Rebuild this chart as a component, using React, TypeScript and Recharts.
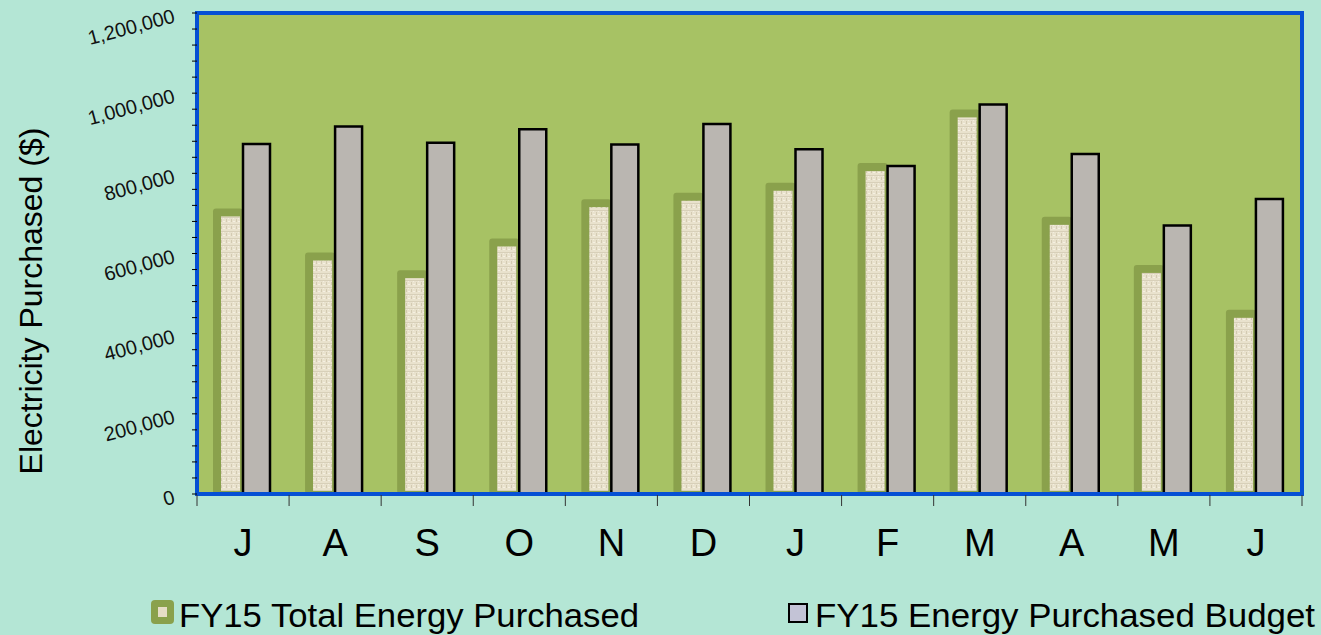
import React from 'react';
import { BarChart, Bar, XAxis, YAxis, CartesianGrid, ReferenceArea, Legend } from 'recharts';

const months = ['J', 'A', 'S', 'O', 'N', 'D', 'J', 'F', 'M', 'A', 'M', 'J'];
const totalPurchased = [705000, 595000, 551000, 630000, 728000, 744000, 769000, 818000, 952000, 684000, 564000, 452000];
const purchasedBudget = [873000, 917000, 876000, 910000, 872000, 923000, 860000, 818000, 972000, 848000, 670000, 736000];
const yTicks = [
  0, 40000, 80000, 120000, 160000, 200000, 240000, 280000, 320000, 360000, 400000,
  440000, 480000, 520000, 560000, 600000, 640000, 680000, 720000, 760000, 800000,
  840000, 880000, 920000, 960000, 1000000, 1040000, 1080000, 1120000, 1160000, 1200000,
];
const yLabelTicks = [0, 200000, 400000, 600000, 800000, 1000000, 1200000];
const seriesNames = ['FY15 Total Energy Purchased', 'FY15 Energy Purchased Budget'];

const data = months.map((m, i) => ({ month: m, total: totalPurchased[i], budget: purchasedBudget[i] }));

const FONT = '"Liberation Sans", Arial, Helvetica, sans-serif';
const BG = '#b4e6d5';
const PLOT = '#a7c264';
const GLOW = '#8aa14c';
const BLUE = '#0550d4';

const TexturedBar = (props: any) => {
  const { x, y, width, height } = props;
  if (height == null || height <= 0) return <g />;
  return (
    <g>
      <defs>
        <pattern id="beigeTex" width="5" height="7" patternUnits="userSpaceOnUse">
          <rect x="0" y="0" width="5" height="7" fill="#e9e2cd" />
          <rect x="0" y="0" width="5" height="1" fill="#d8d0b9" />
          <rect x="1" y="2" width="1" height="3" fill="#d3cab2" />
          <rect x="3" y="4" width="2" height="1" fill="#f5f0e2" />
          <rect x="3" y="1" width="1" height="1" fill="#f3eee0" />
        </pattern>
      </defs>
      <rect x={x - 3} y={y - 3} width={width + 3} height={height + 3} rx={3} ry={3} fill={GLOW} />
      <rect x={x + 5} y={y + 5} width={width - 8} height={height - 8} fill="url(#beigeTex)" />
    </g>
  );
};

const YTick = (props: any) => {
  const { x, y, payload } = props;
  if (!yLabelTicks.includes(payload.value)) return <g />;
  const tx = x - 14;
  const ty = y + 9;
  return (
    <text
      x={tx}
      y={ty}
      textAnchor="end"
      fontSize={20}
      fontFamily={FONT}
      fill="#111"
      transform={`rotate(-15 ${tx} ${ty})`}
    >
      {payload.value.toLocaleString('en-US')}
    </text>
  );
};

const XTick = (props: any) => {
  const { x, y, payload, index, visibleTicksCount } = props;
  const half = payload && payload.offset ? payload.offset : 46;
  const isLast = index === (visibleTicksCount ?? months.length) - 1;
  return (
    <g>
      <line x1={x - half} y1={y + 1} x2={x - half} y2={y + 12} stroke="#333" strokeWidth={1} />
      {isLast && <line x1={x + half} y1={y + 1} x2={x + half} y2={y + 12} stroke="#333" strokeWidth={1} />}
      <text x={x} y={y + 62} textAnchor="middle" fontSize={38} fontFamily={FONT} fill="#000">
        {payload.value}
      </text>
    </g>
  );
};

const LegendContent = () => (
  <svg width={1321} height={45} style={{ display: 'block' }}>
    <rect x={151} y={10} width={23} height={24} rx={4} ry={4} fill={GLOW} />
    <rect x={158} y={17} width={9} height={10} fill="#e6ddc6" />
    <text x={179} y={37} fontSize={33} fontFamily={FONT} fill="#000" textLength={460} lengthAdjust="spacingAndGlyphs">
      {seriesNames[0]}
    </text>
    <rect x={789} y={14} width={18} height={18} fill="#c3c3d6" stroke="#000" strokeWidth={2} />
    <text x={815} y={37} fontSize={33} fontFamily={FONT} fill="#000" textLength={500} lengthAdjust="spacingAndGlyphs">
      {seriesNames[1]}
    </text>
  </svg>
);

export default function App() {
  return (
    <div style={{ position: 'fixed', left: 0, top: 0, width: 1321, height: 635, background: BG, overflow: 'hidden' }}>
      <BarChart
        width={1321}
        height={635}
        data={data}
        margin={{ top: 13, right: 19, left: 137, bottom: 81 }}
        barSize={27}
        barGap={0}
      >
        <CartesianGrid horizontal={false} vertical={false} fill={PLOT} fillOpacity={1} stroke="none" />
        <XAxis
          dataKey="month"
          type="category"
          height={60}
          axisLine={{ stroke: BLUE, strokeWidth: 4 }}
          tickLine={false}
          tickSize={0}
          tickMargin={0}
          tick={<XTick />}
          interval={0}
        />
        <YAxis
          width={60}
          domain={[0, 1200000]}
          ticks={yTicks}
          interval={0}
          tickSize={5}
          tickLine={{ stroke: '#000', strokeWidth: 1 }}
          axisLine={{ stroke: BLUE, strokeWidth: 3 }}
          tick={<YTick />}
          label={{
            content: () => (
              <text
                x={42}
                y={301}
                textAnchor="middle"
                fontSize={32}
                fontFamily={FONT}
                fill="#000"
                transform="rotate(-90 42 301)"
              >
                Electricity Purchased ($)
              </text>
            ),
          }}
        />
        <ReferenceArea y1={0} y2={1200000} fill="none" stroke={BLUE} strokeWidth={4} ifOverflow="visible" />
        <Bar dataKey="total" name={seriesNames[0]} shape={<TexturedBar />} isAnimationActive={false} />
        <Bar
          dataKey="budget"
          name={seriesNames[1]}
          fill="#bab6b1"
          stroke="#000"
          strokeWidth={2.5}
          isAnimationActive={false}
        />
        <Legend
          layout="horizontal"
          verticalAlign="middle"
          align="center"
          wrapperStyle={{ left: 0, top: 590, width: 1321, height: 45 }}
          content={<LegendContent />}
        />
      </BarChart>
    </div>
  );
}
